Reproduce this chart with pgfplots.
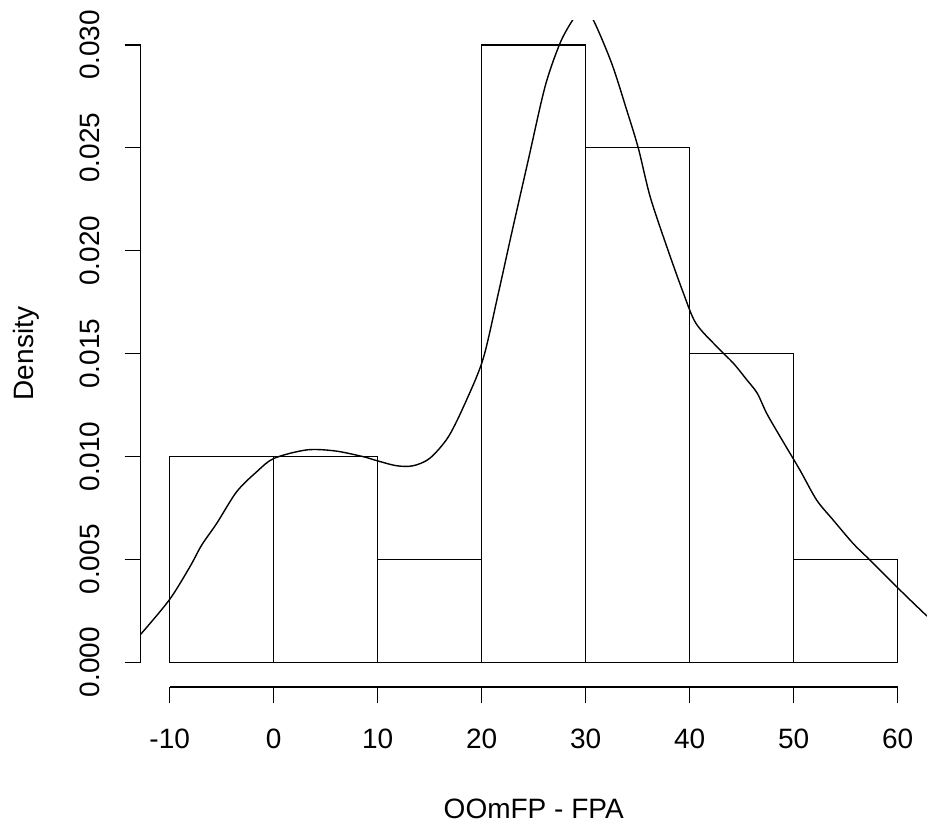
\documentclass[border=0pt]{standalone}
\usepackage{fontspec}
\setmainfont{Liberation Sans}
\usepackage{pgfplots}
\pgfplotsset{compat=1.18}
\begin{document}
\begin{tikzpicture}[x=1pt,y=1pt]
\path[use as bounding box] (0,0) rectangle (466,414.5);
\begin{axis}[
  at={(70.3pt,71pt)}, anchor=south west,
  scale only axis, width=393.1pt, height=333.4pt,
  xmin=-12.8, xmax=62.8, ymin=-0.0012, ymax=0.0312,
  axis line style={draw=none},
  xtick={-10,0,10,20,30,40,50,60},
  xticklabels={-10,0,10,20,30,40,50,60},
  ytick={0,0.005,0.010,0.015,0.020,0.025,0.030},
  yticklabels={0.000,0.005,0.010,0.015,0.020,0.025,0.030},
  scaled y ticks=false,
  xtick pos=bottom, ytick pos=left,
  tick align=outside, major tick length=8pt,
  tick style={black, line width=0.7pt},
  minor tick num=0,
  clip mode=individual,
  every tick label/.append style={font=\fontsize{14}{16}\selectfont},
  xticklabel style={anchor=base},
  xticklabel shift=22.65pt,
  yticklabel style={rotate=90, anchor=base},
  yticklabel shift=12.65pt,
  xlabel={OOmFP - FPA}, ylabel={Density},
  label style={font=\fontsize{14}{16}\selectfont},
  xlabel style={at={(axis description cs:0.5,-0.1969)}, anchor=base},
  ylabel style={at={(axis description cs:-0.1365,0.5)}, anchor=base},
]
\addplot[ybar interval, draw=black, fill=none, line width=0.7pt] coordinates {
(-10,0.010) (0,0.010) (10,0.005) (20,0.030) (30,0.025) (40,0.015) (50,0.005) (60,0.005)};
\addplot[smooth, black, line width=0.7pt, mark=none] coordinates {
(-13.0,0.00130) (-12.69,0.00142) (-10.0,0.00306) (-8.05,0.00465) (-6.92,0.00570)
(-5.48,0.00675) (-3.56,0.00829) (-1.63,0.00926) (0.03,0.00991) (3.17,0.01032)
(5.9,0.01027) (8.62,0.00999) (9.9,0.00980) (11.83,0.00955) (13.4,0.00955)
(15.0,0.00991) (16.8,0.01096) (18.5,0.0127) (20.15,0.01477) (21.6,0.01793)
(22.88,0.02085) (24.48,0.02441) (26.09,0.02797) (27.53,0.03008) (28.75,0.03121)
(29.7,0.0318) (30.73,0.03121) (32.5,0.0291) (33.94,0.02684) (35.06,0.02498)
(36.2,0.02262) (37.8,0.02019) (39.4,0.01793) (40.6,0.01647) (42.6,0.01534)
(44.2,0.01453) (45.5,0.01372) (46.5,0.01307) (47.4,0.0121) (48.7,0.01096)
(50.6,0.00934) (52.2,0.00789) (53.8,0.00691) (55.7,0.00578) (57.0,0.00513)
(59.9,0.00367) (62.6,0.00235) (63.0,0.0022)};
\draw[line width=0.7pt] (axis cs:-10,-0.0012) -- (axis cs:60,-0.0012);
\draw[line width=0.7pt] (axis cs:-12.8,0) -- (axis cs:-12.8,0.030);
\end{axis}
\end{tikzpicture}
\end{document}
